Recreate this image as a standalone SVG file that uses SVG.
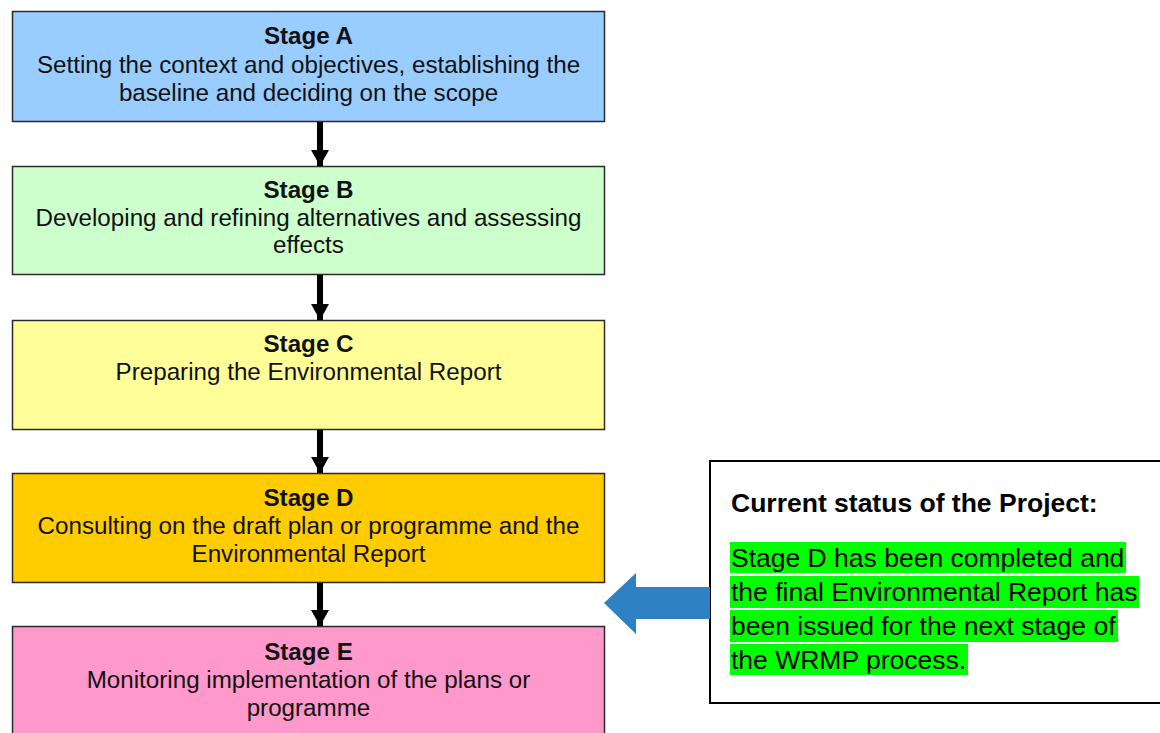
<svg xmlns="http://www.w3.org/2000/svg" width="1160" height="733" viewBox="0 0 1160 733">
<style>
.box{stroke:#2b2b2b;stroke-width:1.5}
.t{font-family:"Liberation Sans",Arial,sans-serif;font-size:24.2px;fill:#111;text-anchor:middle}
.b{font-weight:bold}
.st{font-family:"Liberation Sans",Arial,sans-serif;font-size:26.5px;fill:#000}
.hl{fill:#00ff00}
.conn{stroke:#000;stroke-width:6}
</style>
<defs>
<marker id="ah" viewBox="0 0 16 18" refX="16" refY="9" markerUnits="userSpaceOnUse" markerWidth="18" markerHeight="18" orient="auto">
<path d="M0,0 L16,9 L0,18 Z" fill="#000"/>
</marker>
</defs>
<rect width="1160" height="733" fill="#fff"/>
<g id="stageA">
<rect class="box" x="12.5" y="11.5" width="592" height="110" fill="#99ccff"/>
<text class="t b" x="308.5" y="44">Stage A</text>
<text class="t" x="308.5" y="73">Setting the context and objectives, establishing the</text>
<text class="t" x="308.5" y="101">baseline and deciding on the scope</text>
</g>
<g id="stageB">
<rect class="box" x="12.5" y="166.5" width="592" height="108" fill="#ccffcc"/>
<text class="t b" x="308.5" y="198">Stage B</text>
<text class="t" x="308.5" y="226">Developing and refining alternatives and assessing</text>
<text class="t" x="308.5" y="253">effects</text>
</g>
<g id="stageC">
<rect class="box" x="12.5" y="320.5" width="592" height="109" fill="#ffff99"/>
<text class="t b" x="308.5" y="352">Stage C</text>
<text class="t" x="308.5" y="380">Preparing the Environmental Report</text>
</g>
<g id="stageD">
<rect class="box" x="12.5" y="473.5" width="592" height="109" fill="#ffcc00"/>
<text class="t b" x="308.5" y="506">Stage D</text>
<text class="t" x="308.5" y="534">Consulting on the draft plan or programme and the</text>
<text class="t" x="308.5" y="562">Environmental Report</text>
</g>
<g id="stageE">
<rect class="box" x="12.5" y="626.5" width="592" height="120" fill="#ff99cc"/>
<text class="t b" x="308.5" y="660">Stage E</text>
<text class="t" x="308.5" y="688">Monitoring implementation of the plans or</text>
<text class="t" x="308.5" y="716">programme</text>
</g>
<g id="status">
<rect x="710" y="461" width="460" height="242" fill="#fff" stroke="#000" stroke-width="2"/>
<text class="st b" x="731" y="512" font-size="25.5">Current status of the Project:</text>
<rect class="hl" x="730" y="542" width="396" height="31"/>
<rect class="hl" x="730" y="576" width="409" height="32"/>
<rect class="hl" x="730" y="610" width="388" height="32"/>
<rect class="hl" x="730" y="644" width="238" height="31"/>
<text class="st" x="731" y="567">Stage D has been completed and</text>
<text class="st" x="731" y="601">the final Environmental Report has</text>
<text class="st" x="731" y="635">been issued for the next stage of</text>
<text class="st" x="731" y="669">the WRMP process.</text>
</g>
<g id="connectors">
<line class="conn" x1="320" y1="122" x2="320" y2="166" marker-end="url(#ah)"/>
<line class="conn" x1="320" y1="275" x2="320" y2="320" marker-end="url(#ah)"/>
<line class="conn" x1="320" y1="430" x2="320" y2="473" marker-end="url(#ah)"/>
<line class="conn" x1="320" y1="583" x2="320" y2="626" marker-end="url(#ah)"/>
<path d="M710,587 L636,587 L636,573 L604,603 L636,634 L636,619 L710,619 Z" fill="#2e82c4"/>
</g>
</svg>
